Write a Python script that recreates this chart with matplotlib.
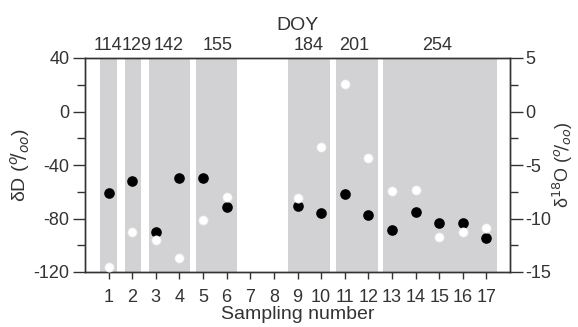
import matplotlib.pyplot as plt
from matplotlib.ticker import MultipleLocator

plt.rcParams['font.family'] = ['Liberation Sans', 'DejaVu Sans']
plt.rcParams['font.size'] = 13
plt.rcParams['axes.unicode_minus'] = False

sample = [1, 2, 3, 4, 5, 6, 9, 10, 11, 12, 13, 14, 15, 16, 17]
dD = [-61, -52, -90, -49.5, -49.5, -71.5, -70.5, -76, -62, -77.5, -88.5, -75, -83, -83, -94.5]
d18O = [-14.5, -11.3, -12.0, -13.7, -10.1, -8.0, -8.1, -3.3, 2.6, -4.3, -7.4, -7.3, -11.7, -11.3, -10.9]

band_start = [0.65, 1.68, 2.7, 4.68, 8.6, 10.65, 12.62]
band_end = [1.37, 2.38, 4.45, 6.43, 10.37, 12.4, 17.45]
doy = ['114', '129', '142', '155', '184', '201', '254']
doy_pos = [0.97, 2.2, 3.55, 5.6, 9.45, 11.42, 14.9]

ink = '#333333'

fig = plt.figure(figsize=(5.78, 3.27), dpi=100)
ax1 = fig.add_axes([85/578, 1 - 272/327, 425/578, 214/327])

for s, e in zip(band_start, band_end):
	ax1.axvspan(s, e, color='#d2d2d4', lw=0, zorder=0)

ax2 = ax1.twinx()
ax1.scatter(sample, dD, s=44, color='black', zorder=3)
ax2.scatter(sample, d18O, s=44, color='white', edgecolors='#e8e8e8', linewidths=0.5, zorder=3)

ax1.set_xlim(0, 18)
ax1.set_ylim(-120, 40)
ax2.set_ylim(-15, 5)
ax1.set_xticks(range(1, 18))
ax1.yaxis.set_major_locator(MultipleLocator(40))
ax1.yaxis.set_minor_locator(MultipleLocator(20))
ax2.yaxis.set_major_locator(MultipleLocator(5))
ax2.yaxis.set_minor_locator(MultipleLocator(2.5))

for ax in (ax1, ax2):
	for sp in ax.spines.values():
		sp.set_color(ink)
		sp.set_linewidth(1.0)
	ax.tick_params(which='both', direction='out', color=ink, labelcolor=ink, width=1.0)
	ax.tick_params(axis='y', which='major', length=9, pad=2)
	ax.tick_params(axis='y', which='minor', length=5.5)
ax1.tick_params(axis='x', length=5, pad=7)

ax1.set_xlabel('Sampling number', color=ink, labelpad=0, fontsize=14)
ax1.set_ylabel(r'δD ($^{o}\!/_{oo}$)', color=ink, labelpad=1, fontsize=14)
ax2.set_ylabel(r'δ$^{18}$O ($^{o}\!/_{oo}$)', color=ink, labelpad=0, fontsize=13)

top = ax1.secondary_xaxis('top')
top.set_xticks(doy_pos)
top.set_xticklabels(doy)
top.tick_params(length=0, pad=3, labelcolor=ink)
top.spines['top'].set_visible(False)
top.set_xlabel('DOY', color=ink, labelpad=5, fontsize=14)

fig.savefig('out.png', dpi=100)
